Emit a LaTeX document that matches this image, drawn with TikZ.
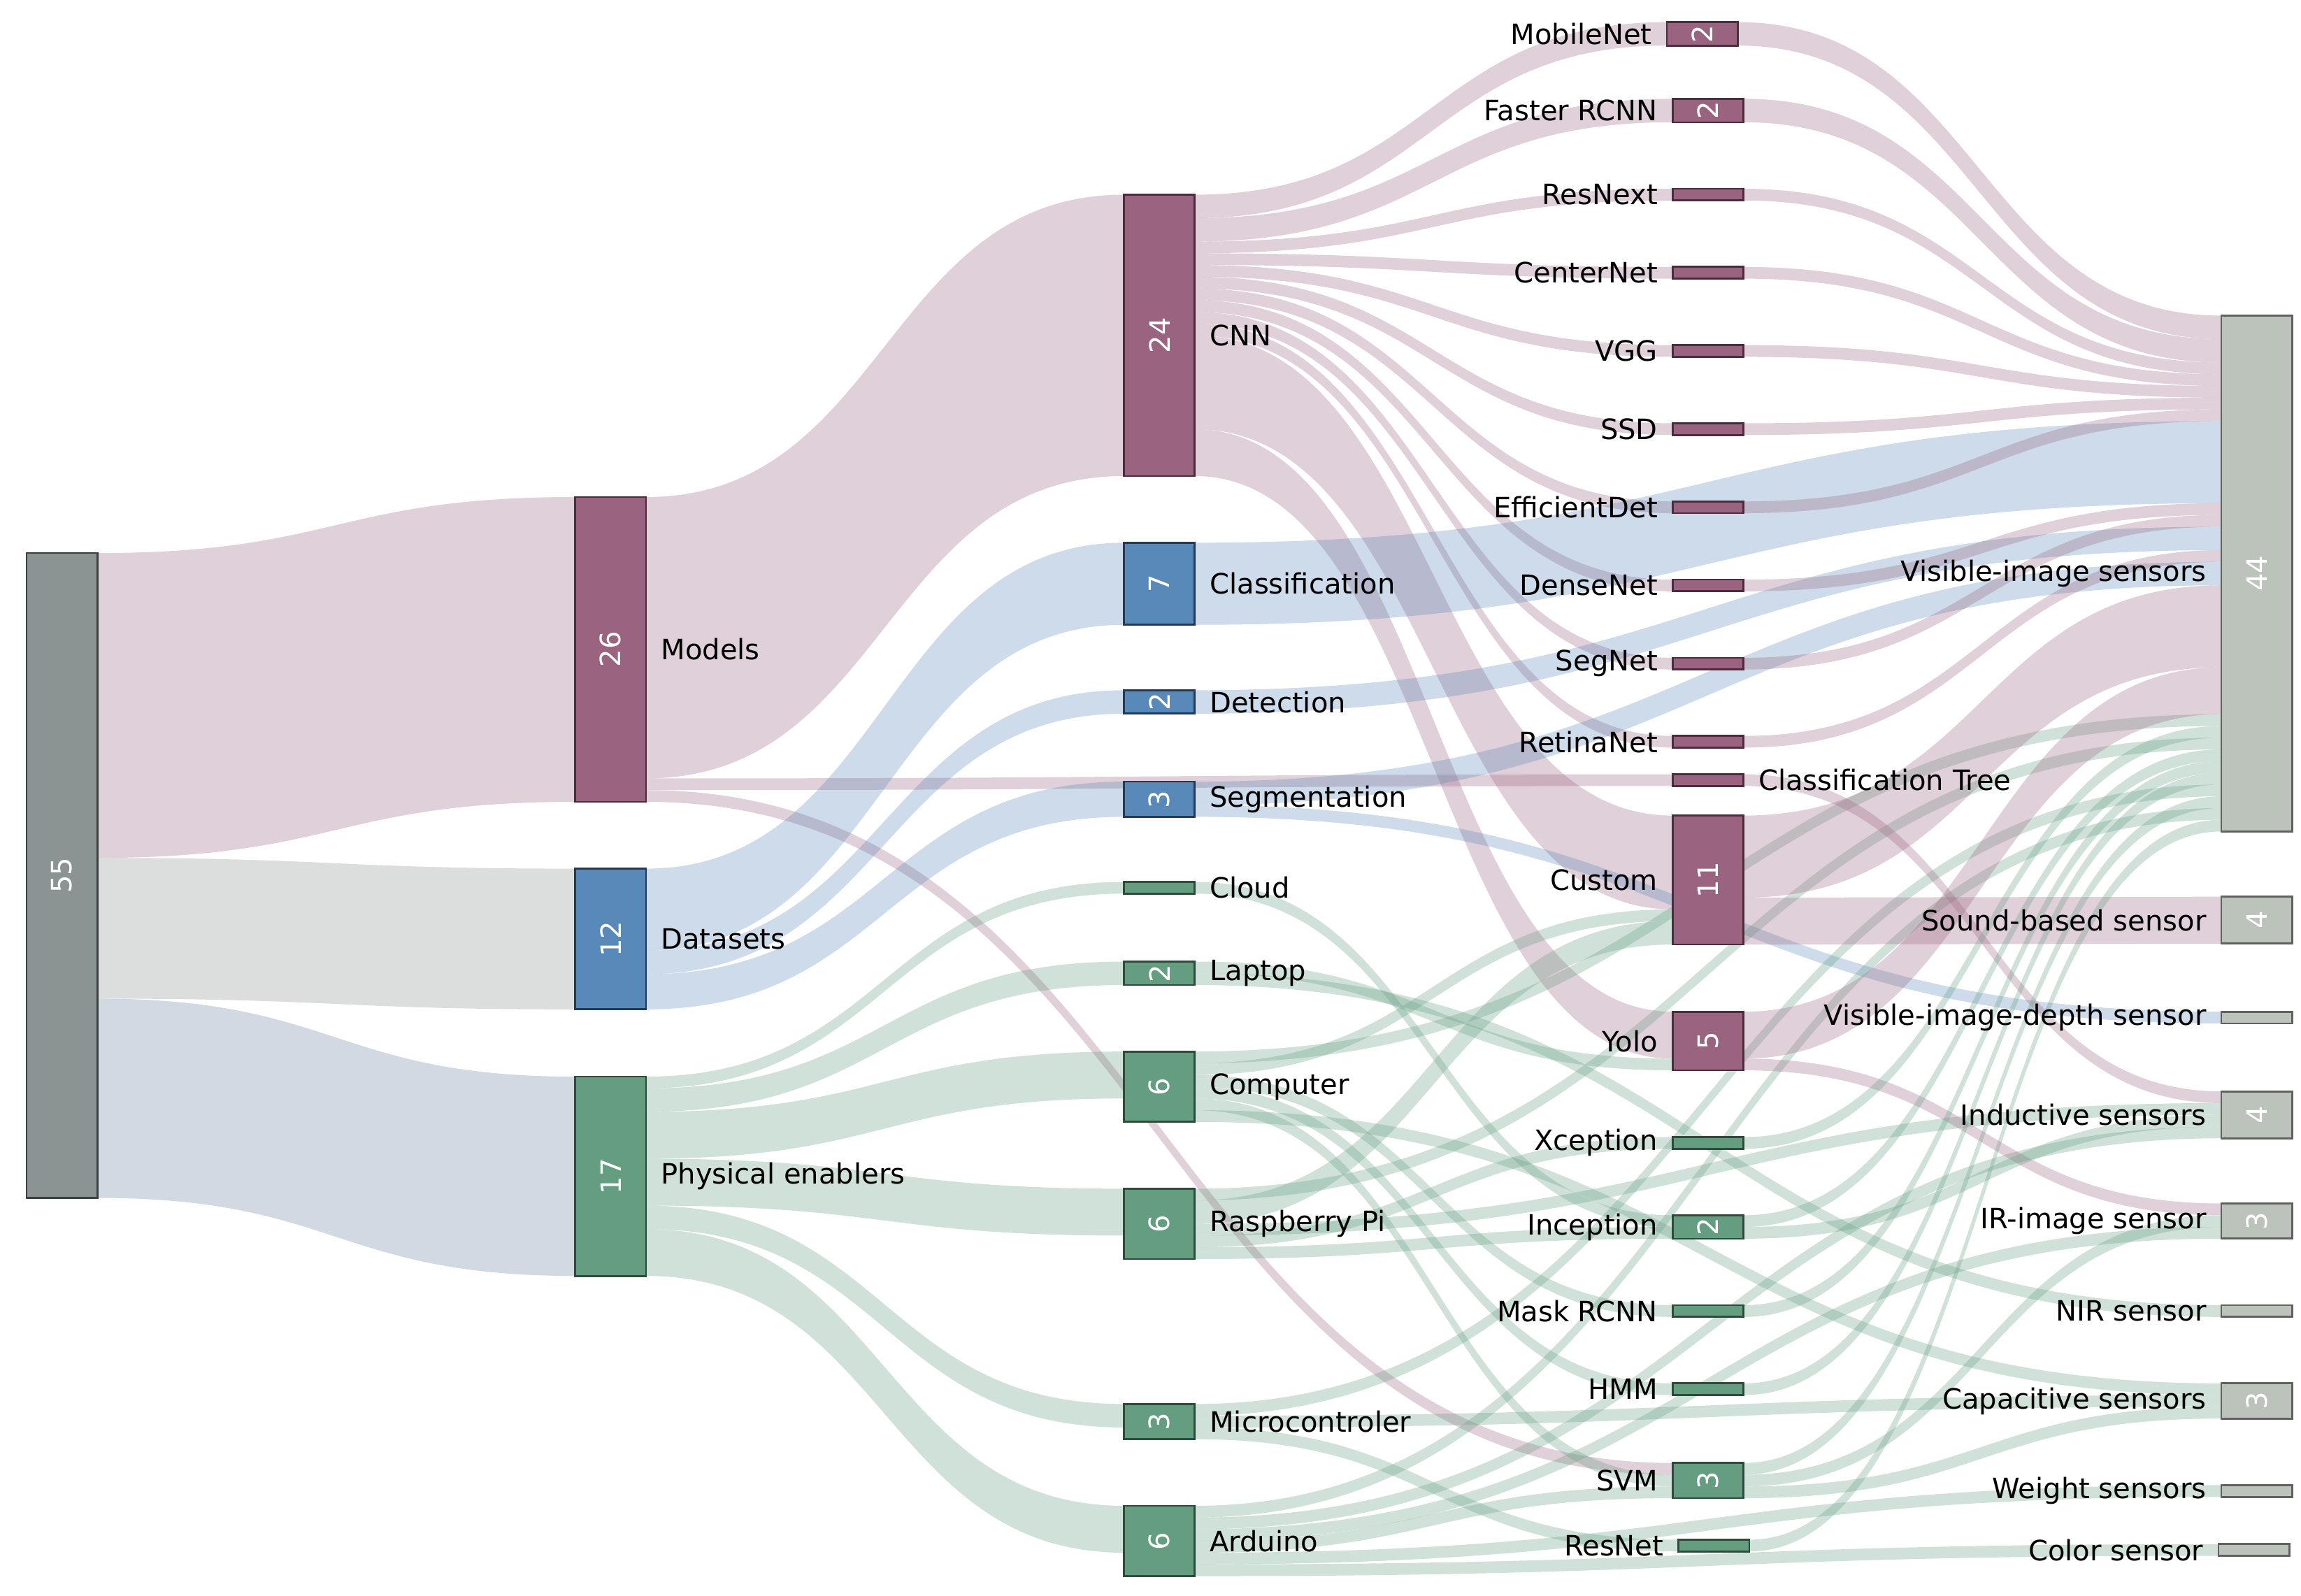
\documentclass[tikz,border=0pt]{standalone}
\usepackage{fontspec}
\setmainfont{DejaVu Sans}
\usetikzlibrary{calc,backgrounds}
\definecolor{cK}{HTML}{8C9393}\definecolor{cKd}{HTML}{3A3F3F}
\definecolor{cM}{HTML}{9A6480}\definecolor{cMd}{HTML}{4A2C3C}
\definecolor{cB}{HTML}{5889B8}\definecolor{cBd}{HTML}{233A52}
\definecolor{cGr}{HTML}{649D80}\definecolor{cGrd}{HTML}{2D4A3B}
\definecolor{cS}{HTML}{BCC3BB}\definecolor{cSd}{HTML}{5F625F}
\definecolor{cG}{HTML}{8C9090}\definecolor{cP}{HTML}{6E80A0}
\tikzset{
 nd/.style={draw, line width=1.3pt, minimum width=48pt, inner sep=0pt, outer sep=0pt, anchor=north west, text=white, font=\fontsize{19}{22}\selectfont},
 kN/.style={nd, fill=cK, draw=cKd}, mN/.style={nd, fill=cM, draw=cMd},
 bN/.style={nd, fill=cB, draw=cBd}, gN/.style={nd, fill=cGr, draw=cGrd},
 sN/.style={nd, fill=cS, draw=cSd},
 lbl/.style={font=\fontsize{19}{22}\selectfont, inner sep=0pt, text=black}
}
\newcommand\nd[6]{\node[#2, minimum height=#5*7.95pt] (#1) at (#3,#4) {#6};}
\newcommand\lblR[2]{\node[lbl, anchor=west] (l#1) at ([xshift=10pt]#1.east) {#2};}
\newcommand\lblL[2]{\node[lbl, anchor=east] (l#1) at ([xshift=-10pt]#1.west) {#2};}
\newcommand\lk[6]{\fill[#6, fill opacity=.3] let \p1=(#1.north east), \p2=(#3.north west),
 \n1={\y1-#2*7.95pt}, \n2={\y2-#4*7.95pt}, \n3={\y1-(#2+#5)*7.95pt}, \n4={\y2-(#4+#5)*7.95pt}, \n5={(\x1+\x2)/2} in
 (\x1,\n1) .. controls (\n5,\n1) and (\n5,\n2) .. (\x2,\n2) -- (\x2,\n4) .. controls (\n5,\n4) and (\n5,\n3) .. (\x1,\n3) -- cycle;}
\newcommand\R[1]{\rotatebox{90}{#1}}
\begin{document}
\begin{tikzpicture}[x=1pt,y=-1pt]
\useasboundingbox (0,0) rectangle (1560,1082);
\nd{n55}{kN}{18}{375}{55}{\R{55}}
\nd{models}{mN}{390}{337}{26}{\R{26}}
\nd{datasets}{bN}{390}{589}{12}{\R{12}}
\nd{phys}{gN}{390}{730}{17}{\R{17}}
\nd{cnn}{mN}{762}{132}{24}{\R{24}}
\nd{cls}{bN}{762}{368}{7}{\R{7}}
\nd{det}{bN}{762}{468}{2}{\R{2}}
\nd{seg}{bN}{762}{530}{3}{\R{3}}
\nd{cloud}{gN}{762}{598}{1}{}
\nd{laptop}{gN}{762}{652}{2}{\R{2}}
\nd{comp}{gN}{762}{713}{6}{\R{6}}
\nd{rpi}{gN}{762}{806}{6}{\R{6}}
\nd{micro}{gN}{762}{952}{3}{\R{3}}
\nd{ard}{gN}{762}{1021}{6}{\R{6}}
\nd{mob}{mN}{1130}{15}{2}{\R{2}}
\nd{frcnn}{mN}{1134}{67}{2}{\R{2}}
\nd{rnext}{mN}{1134}{128}{1}{}
\nd{cnet}{mN}{1134}{181}{1}{}
\nd{vgg}{mN}{1134}{234}{1}{}
\nd{ssd}{mN}{1134}{287}{1}{}
\nd{edet}{mN}{1134}{340}{1}{}
\nd{dnet}{mN}{1134}{393}{1}{}
\nd{sgnet}{mN}{1134}{446}{1}{}
\nd{rnet}{mN}{1134}{499}{1}{}
\nd{ctree}{mN}{1134}{525}{1}{}
\nd{custom}{mN}{1134}{553}{11}{\R{11}}
\nd{yolo}{mN}{1134}{686}{5}{\R{5}}
\nd{xcep}{gN}{1134}{771}{1}{}
\nd{incep}{gN}{1134}{824}{2}{\R{2}}
\nd{mask}{gN}{1134}{885}{1}{}
\nd{hmm}{gN}{1134}{938}{1}{}
\nd{svm}{gN}{1134}{992}{3}{\R{3}}
\nd{resnet}{gN}{1138}{1044}{1}{}
\nd{s44}{sN}{1506}{214}{44}{\R{44}}
\nd{sound}{sN}{1506}{608}{4}{\R{4}}
\nd{depth}{sN}{1506}{686}{1}{}
\nd{induct}{sN}{1506}{740}{4}{\R{4}}
\nd{ir}{sN}{1506}{816}{3}{\R{3}}
\nd{nir}{sN}{1506}{885}{1}{}
\nd{cap}{sN}{1506}{938}{3}{\R{3}}
\nd{weight}{sN}{1506}{1007}{1}{}
\nd{color}{sN}{1504}{1047}{1}{}
\lblR{models}{Models}\lblR{datasets}{Datasets}\lblR{phys}{Physical enablers}
\lblR{cnn}{CNN}\lblR{cls}{Classification}\lblR{det}{Detection}\lblR{seg}{Segmentation}
\lblR{cloud}{Cloud}\lblR{laptop}{Laptop}\lblR{comp}{Computer}\lblR{rpi}{Raspberry Pi}
\lblR{micro}{Microcontroler}\lblR{ard}{Arduino}
\lblL{mob}{MobileNet}\lblL{frcnn}{Faster RCNN}\lblL{rnext}{ResNext}\lblL{cnet}{CenterNet}
\lblL{vgg}{VGG}\lblL{ssd}{SSD}\lblL{edet}{EfficientDet}\lblL{dnet}{DenseNet}\lblL{sgnet}{SegNet}
\lblL{rnet}{RetinaNet}\lblR{ctree}{Classification Tree}\lblL{custom}{Custom}\lblL{yolo}{Yolo}
\lblL{xcep}{Xception}\lblL{incep}{Inception}\lblL{mask}{Mask RCNN}\lblL{hmm}{HMM}\lblL{svm}{SVM}
\lblL{resnet}{ResNet}
\lblL{s44}{Visible-image sensors}\lblL{sound}{Sound-based sensor}\lblL{depth}{Visible-image-depth sensor}
\lblL{induct}{Inductive sensors}\lblL{ir}{IR-image sensor}\lblL{nir}{NIR sensor}
\lblL{cap}{Capacitive sensors}\lblL{weight}{Weight sensors}\lblL{color}{Color sensor}
\begin{pgfonlayer}{background}
\lk{n55}{0}{models}{0}{26}{cM}
\lk{n55}{26}{datasets}{0}{12}{cG}
\lk{n55}{38}{phys}{0}{17}{cP}
\lk{models}{0}{cnn}{0}{24}{cM}
\lk{models}{24}{ctree}{0}{1}{cM}
\lk{models}{25}{svm}{0}{1}{cM}
\lk{datasets}{0}{cls}{0}{7}{cB}
\lk{datasets}{7}{det}{0}{2}{cB}
\lk{datasets}{9}{seg}{0}{3}{cB}
\lk{phys}{0}{cloud}{0}{1}{cGr}
\lk{phys}{1}{laptop}{0}{2}{cGr}
\lk{phys}{3}{comp}{0}{4}{cGr}
\lk{phys}{7}{rpi}{0}{4}{cGr}
\lk{phys}{11}{micro}{0}{2}{cGr}
\lk{phys}{13}{ard}{0}{4}{cGr}
\lk{cnn}{0}{mob}{0}{2}{cM}
\lk{cnn}{2}{frcnn}{0}{2}{cM}
\lk{cnn}{4}{rnext}{0}{1}{cM}
\lk{cnn}{5}{cnet}{0}{1}{cM}
\lk{cnn}{6}{vgg}{0}{1}{cM}
\lk{cnn}{7}{ssd}{0}{1}{cM}
\lk{cnn}{8}{edet}{0}{1}{cM}
\lk{cnn}{9}{dnet}{0}{1}{cM}
\lk{cnn}{10}{sgnet}{0}{1}{cM}
\lk{cnn}{11}{rnet}{0}{1}{cM}
\lk{cnn}{12}{custom}{0}{8}{cM}
\lk{cnn}{20}{yolo}{0}{4}{cM}
\lk{cls}{0}{s44}{9}{7}{cB}
\lk{det}{0}{s44}{18}{2}{cB}
\lk{seg}{0}{s44}{21}{2}{cB}
\lk{seg}{2}{depth}{0}{1}{cB}
\lk{cloud}{0}{incep}{0}{1}{cGr}
\lk{laptop}{0}{yolo}{4}{1}{cGr}
\lk{laptop}{1}{nir}{0}{1}{cGr}
\lk{comp}{0}{s44}{34}{1}{cGr}
\lk{comp}{1}{custom}{8}{1}{cGr}
\lk{comp}{2}{mask}{0}{1}{cGr}
\lk{comp}{3}{hmm}{0}{1}{cGr}
\lk{comp}{4}{svm}{1}{1}{cGr}
\lk{comp}{5}{cap}{0}{1}{cGr}
\lk{rpi}{0}{s44}{36}{1}{cGr}
\lk{rpi}{1}{custom}{9}{2}{cGr}
\lk{rpi}{3}{induct}{1}{1}{cGr}
\lk{rpi}{4}{xcep}{0}{1}{cGr}
\lk{rpi}{5}{incep}{1}{1}{cGr}
\lk{micro}{0}{s44}{40}{1}{cGr}
\lk{micro}{1}{cap}{1}{1}{cGr}
\lk{micro}{2}{resnet}{0}{1}{cGr}
\lk{ard}{0}{s44}{42}{1}{cGr}
\lk{ard}{1}{induct}{3}{1}{cGr}
\lk{ard}{2}{ir}{2}{1}{cGr}
\lk{ard}{3}{svm}{2}{1}{cGr}
\lk{ard}{4}{weight}{0}{1}{cGr}
\lk{ard}{5}{color}{0}{1}{cGr}
\lk{mob}{0}{s44}{0}{2}{cM}
\lk{frcnn}{0}{s44}{2}{2}{cM}
\lk{rnext}{0}{s44}{4}{1}{cM}
\lk{cnet}{0}{s44}{5}{1}{cM}
\lk{vgg}{0}{s44}{6}{1}{cM}
\lk{ssd}{0}{s44}{7}{1}{cM}
\lk{edet}{0}{s44}{8}{1}{cM}
\lk{dnet}{0}{s44}{16}{1}{cM}
\lk{sgnet}{0}{s44}{17}{1}{cM}
\lk{rnet}{0}{s44}{20}{1}{cM}
\lk{ctree}{0}{induct}{0}{1}{cM}
\lk{custom}{0}{s44}{23}{7}{cM}
\lk{custom}{7}{sound}{0}{4}{cM}
\lk{yolo}{0}{s44}{30}{4}{cM}
\lk{yolo}{4}{ir}{0}{1}{cM}
\lk{xcep}{0}{s44}{35}{1}{cGr}
\lk{incep}{0}{s44}{37}{1}{cGr}
\lk{incep}{1}{induct}{2}{1}{cGr}
\lk{mask}{0}{s44}{38}{1}{cGr}
\lk{hmm}{0}{s44}{39}{1}{cGr}
\lk{svm}{0}{s44}{41}{1}{cGr}
\lk{svm}{1}{ir}{1}{1}{cGr}
\lk{svm}{2}{cap}{2}{1}{cGr}
\lk{resnet}{0}{s44}{43}{1}{cGr}
\end{pgfonlayer}
\end{tikzpicture}
\end{document}
